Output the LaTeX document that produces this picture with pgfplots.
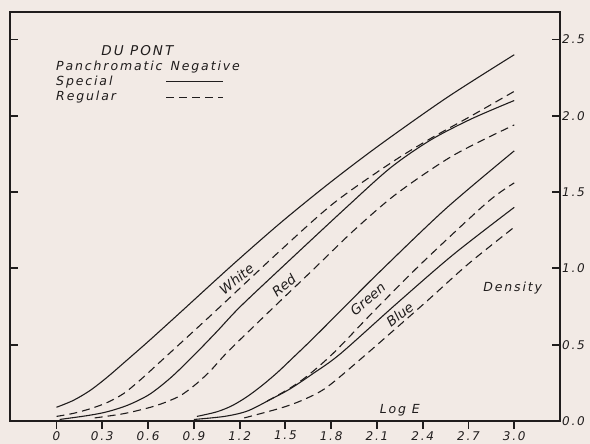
\documentclass[border=0pt]{standalone}
\usepackage{fontspec}
\setmainfont{DejaVu Sans}
\newfontfamily\hand[LetterSpace=15]{DejaVu Sans}
\newfontfamily\handn{DejaVu Sans}
\usepackage{pgfplots}
\pgfplotsset{compat=1.18}
\usetikzlibrary{backgrounds}
\definecolor{paper}{RGB}{242,234,229}
\definecolor{ink}{RGB}{32,29,29}

\tikzset{
  lab/.style={font=\hand\itshape\fontsize{12}{14}\selectfont, text=ink, inner sep=1pt},
  big/.style={lab, font=\hand\itshape\fontsize{12.5}{14}\selectfont},
  rot/.style={text=ink, inner sep=0pt, font=\handn\itshape\fontsize{13.5}{15}\selectfont},
}
\pgfplotsset{
  special/.style={ink, line width=1.1pt, smooth},
  regular/.style={ink, line width=1.1pt, smooth, dash pattern=on 8pt off 5pt},
}

\begin{document}
\begin{tikzpicture}
% frame, x ticks (outside) and curves
\begin{axis}[
  name=main,
  scale only axis, width=550pt, height=409pt,
  xmin=-0.305, xmax=3.30, ymin=0, ymax=2.68,
  axis line style={ink, line width=2.2pt},
  xtick={0,0.3,0.6,0.9,1.2,1.5,1.8,2.1,2.4,2.7,3.0},
  xticklabels={0,0.3,0.6,0.9,1.2,1.5,1.8,2.1,2.4,2.7,3.0},
  xtick pos=bottom, tick align=outside,
  ytick=\empty,
  major tick length=8pt,
  every tick/.style={ink, line width=1.8pt},
  xticklabel style={lab, yshift=-1pt},
  clip=false,
]
% White
\addplot[special] coordinates {(0,0.09) (0.11,0.135) (0.22,0.20) (0.33,0.285) (0.44,0.38) (0.6,0.52) (0.81,0.71) (1.15,1.02) (1.47,1.30) (1.79,1.56) (2.12,1.81) (2.56,2.12) (3.0,2.40)};
\addplot[regular] coordinates {(0,0.03) (0.11,0.05) (0.22,0.08) (0.33,0.12) (0.44,0.18) (0.55,0.27) (0.66,0.37) (1.02,0.70) (1.47,1.12) (1.82,1.43) (2.19,1.69) (2.45,1.85) (2.72,2.00) (3.0,2.16)};
% Red
\addplot[special] coordinates {(0.02,0.01) (0.2,0.035) (0.33,0.06) (0.47,0.105) (0.61,0.175) (0.75,0.285) (0.9,0.43) (1.05,0.585) (1.20,0.745) (1.47,1.00) (1.90,1.40) (2.19,1.66) (2.45,1.84) (2.72,1.98) (3.0,2.10)};
\addplot[regular] coordinates {(0.25,0.02) (0.45,0.05) (0.65,0.10) (0.8,0.16) (0.9,0.23) (1.0,0.32) (1.1,0.43) (1.2,0.53) (1.47,0.79) (1.68,0.99) (1.95,1.25) (2.23,1.49) (2.6,1.74) (3.0,1.94)};
% Green
\addplot[special] coordinates {(0.92,0.03) (1.05,0.06) (1.15,0.10) (1.25,0.16) (1.35,0.235) (1.45,0.32) (1.55,0.415) (1.68,0.54) (1.9,0.76) (2.10,0.96) (2.55,1.39) (3.0,1.77)};
\addplot[regular] coordinates {(1.38,0.13) (1.53,0.215) (1.65,0.30) (1.82,0.45) (2.09,0.73) (2.4,1.04) (2.82,1.43) (3.0,1.56)};
% Blue
\addplot[special] coordinates {(0.9,0.01) (1.1,0.03) (1.25,0.065) (1.40,0.14) (1.53,0.21) (1.68,0.31) (1.86,0.44) (2.23,0.77) (2.6,1.09) (3.0,1.40)};
\addplot[regular] coordinates {(1.23,0.02) (1.47,0.085) (1.62,0.14) (1.77,0.22) (2.01,0.42) (2.41,0.77) (2.7,1.03) (3.0,1.27)};

% curve names
\node[rot, rotate=39] at (axis cs:1.18,0.93) {White};
\node[rot, rotate=40] at (axis cs:1.49,0.89) {Red};
\node[rot, rotate=41] at (axis cs:2.04,0.80) {Green};
\node[rot, rotate=38] at (axis cs:2.25,0.70) {Blue};
\node[big] at (axis cs:2.99,0.87) {Density};
\node[big] at (axis cs:2.25,0.07) {Log E};

% key
\node[lab, font=\hand\itshape\fontsize{13.5}{15}\selectfont] at (axis cs:0.53,2.43) {DU PONT};
\node[big, anchor=west] at (axis cs:-0.01,2.32) {Panchromatic\hspace{8pt}Negative};
\node[big, anchor=west] at (axis cs:-0.01,2.22) {Special};
\node[big, anchor=west] at (axis cs:-0.01,2.12) {Regular};
\draw[ink, line width=1.1pt] (axis cs:0.72,2.225) -- (axis cs:1.09,2.225);
\draw[ink, line width=1.1pt, dash pattern=on 8pt off 5pt] (axis cs:0.72,2.12) -- (axis cs:1.09,2.12);
\end{axis}

% y ticks (inside, both sides), labels at the right
\begin{axis}[
  scale only axis, width=550pt, height=409pt,
  xmin=-0.305, xmax=3.30, ymin=0, ymax=2.68,
  axis line style={ink, line width=2.2pt},
  xtick=\empty,
  ytick={0,0.5,1,1.5,2,2.5},
  yticklabels={0.0,0.5,1.0,1.5,2.0,2.5},
  ytick pos=both, yticklabel pos=right, tick align=inside,
  major tick length=8pt,
  every tick/.style={ink, line width=1.8pt},
  yticklabel style={lab, anchor=west, xshift=1pt},
]
\end{axis}

\pgfresetboundingbox
\path[use as bounding box] ([shift={(-10pt,-23pt)}]main.south west) rectangle ([shift={(30pt,12pt)}]main.north east);
\begin{scope}[on background layer]
\fill[paper] ([shift={(-10pt,-23pt)}]main.south west) rectangle ([shift={(30pt,12pt)}]main.north east);
\end{scope}
\end{tikzpicture}
\end{document}
